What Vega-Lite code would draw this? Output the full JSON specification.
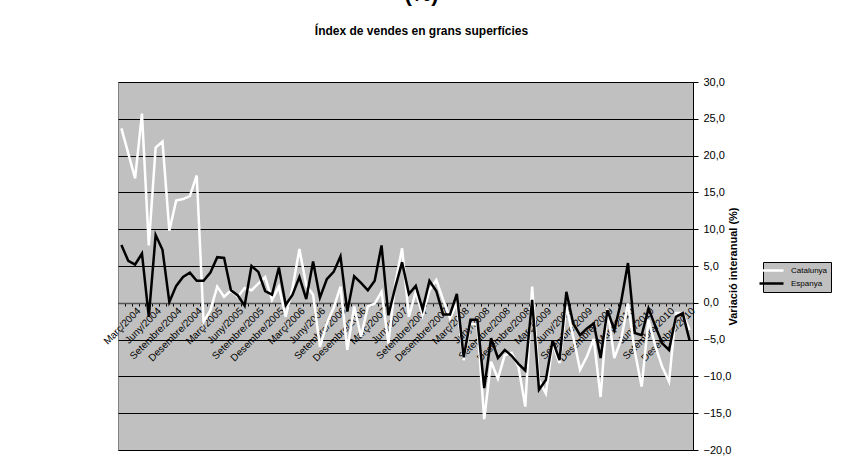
{
  "$schema": "https://vega.github.io/schema/vega-lite/v6.json",
  "width": 575,
  "height": 368,
  "autosize": {"type": "none"},
  "padding": {"left": 118, "top": 82, "right": 152, "bottom": 20},
  "background": "white",
  "title": {
    "text": "(%)",
    "subtitle": "Índex de vendes en grans superfícies",
    "font": "Liberation Sans",
    "fontSize": 22,
    "fontWeight": "bold",
    "color": "black",
    "subtitleFont": "Liberation Sans",
    "subtitleFontSize": 12,
    "subtitleFontWeight": "bold",
    "subtitleColor": "black",
    "anchor": "middle",
    "dx": 16,
    "offset": 38,
    "subtitlePadding": 20
  },
  "data": {
    "values": [
      {"mes": "Gener/2004", "Catalunya": 23.7, "Espanya": 7.85},
      {"mes": "Febrer/2004", "Catalunya": 20.3, "Espanya": 5.7},
      {"mes": "Març/2004", "Catalunya": 16.9, "Espanya": 5.2},
      {"mes": "Abril/2004", "Catalunya": 25.7, "Espanya": 6.7},
      {"mes": "Maig/2004", "Catalunya": 7.8, "Espanya": -1.9},
      {"mes": "Juny/2004", "Catalunya": 21.1, "Espanya": 9.2},
      {"mes": "Juliol/2004", "Catalunya": 21.9, "Espanya": 7.2},
      {"mes": "Agost/2004", "Catalunya": 9.8, "Espanya": 0.1},
      {"mes": "Setembre/2004", "Catalunya": 13.9, "Espanya": 2.3},
      {"mes": "Octubre/2004", "Catalunya": 14.1, "Espanya": 3.5},
      {"mes": "Novembre/2004", "Catalunya": 14.5, "Espanya": 4.1},
      {"mes": "Desembre/2004", "Catalunya": 17.3, "Espanya": 3.0},
      {"mes": "Gener/2005", "Catalunya": -2.6, "Espanya": 3.0},
      {"mes": "Febrer/2005", "Catalunya": -1.0, "Espanya": 4.1},
      {"mes": "Març/2005", "Catalunya": 2.2, "Espanya": 6.2},
      {"mes": "Abril/2005", "Catalunya": 0.8, "Espanya": 6.1},
      {"mes": "Maig/2005", "Catalunya": 1.7, "Espanya": 1.7},
      {"mes": "Juny/2005", "Catalunya": 0.8, "Espanya": 1.0},
      {"mes": "Juliol/2005", "Catalunya": 2.0, "Espanya": -0.4},
      {"mes": "Agost/2005", "Catalunya": 1.7, "Espanya": 5.0},
      {"mes": "Setembre/2005", "Catalunya": 2.6, "Espanya": 4.2},
      {"mes": "Octubre/2005", "Catalunya": 3.5, "Espanya": 1.6},
      {"mes": "Novembre/2005", "Catalunya": 0.4, "Espanya": 1.1},
      {"mes": "Desembre/2005", "Catalunya": 2.2, "Espanya": 4.8},
      {"mes": "Gener/2006", "Catalunya": -1.9, "Espanya": -0.3},
      {"mes": "Febrer/2006", "Catalunya": 2.0, "Espanya": 1.1},
      {"mes": "Març/2006", "Catalunya": 7.3, "Espanya": 3.5},
      {"mes": "Abril/2006", "Catalunya": 2.4, "Espanya": 0.5},
      {"mes": "Maig/2006", "Catalunya": 1.1, "Espanya": 5.6},
      {"mes": "Juny/2006", "Catalunya": -6.0, "Espanya": 0.7},
      {"mes": "Juliol/2006", "Catalunya": -2.8, "Espanya": 3.2},
      {"mes": "Agost/2006", "Catalunya": -0.7, "Espanya": 4.2},
      {"mes": "Setembre/2006", "Catalunya": 2.2, "Espanya": 6.3},
      {"mes": "Octubre/2006", "Catalunya": -6.4, "Espanya": -1.2},
      {"mes": "Novembre/2006", "Catalunya": -0.5, "Espanya": 3.6},
      {"mes": "Desembre/2006", "Catalunya": -4.6, "Espanya": 2.7},
      {"mes": "Gener/2007", "Catalunya": -0.5, "Espanya": 1.7},
      {"mes": "Febrer/2007", "Catalunya": -0.1, "Espanya": 3.0},
      {"mes": "Març/2007", "Catalunya": 1.5, "Espanya": 7.8},
      {"mes": "Abril/2007", "Catalunya": -5.5, "Espanya": -1.7},
      {"mes": "Maig/2007", "Catalunya": 2.6, "Espanya": 2.1},
      {"mes": "Juny/2007", "Catalunya": 7.4, "Espanya": 5.5},
      {"mes": "Juliol/2007", "Catalunya": -1.9, "Espanya": 1.2},
      {"mes": "Agost/2007", "Catalunya": 1.5, "Espanya": 2.3},
      {"mes": "Setembre/2007", "Catalunya": -1.7, "Espanya": -0.9},
      {"mes": "Octubre/2007", "Catalunya": 1.7, "Espanya": 3.0},
      {"mes": "Novembre/2007", "Catalunya": 3.1, "Espanya": 1.6},
      {"mes": "Desembre/2007", "Catalunya": 0.4, "Espanya": -1.6},
      {"mes": "Gener/2008", "Catalunya": -2.1, "Espanya": -1.6},
      {"mes": "Febrer/2008", "Catalunya": -0.1, "Espanya": 1.2},
      {"mes": "Març/2008", "Catalunya": -7.8, "Espanya": -7.4},
      {"mes": "Abril/2008", "Catalunya": -2.8, "Espanya": -2.3},
      {"mes": "Maig/2008", "Catalunya": -3.0, "Espanya": -2.3},
      {"mes": "Juny/2008", "Catalunya": -15.8, "Espanya": -11.6},
      {"mes": "Juliol/2008", "Catalunya": -8.0, "Espanya": -4.8},
      {"mes": "Agost/2008", "Catalunya": -10.3, "Espanya": -7.5},
      {"mes": "Setembre/2008", "Catalunya": -7.1, "Espanya": -6.4},
      {"mes": "Octubre/2008", "Catalunya": -6.8, "Espanya": -7.2},
      {"mes": "Novembre/2008", "Catalunya": -8.7, "Espanya": -8.3},
      {"mes": "Desembre/2008", "Catalunya": -14.1, "Espanya": -9.2},
      {"mes": "Gener/2009", "Catalunya": 2.2, "Espanya": 0.4},
      {"mes": "Febrer/2009", "Catalunya": -10.5, "Espanya": -11.8},
      {"mes": "Març/2009", "Catalunya": -12.3, "Espanya": -10.5},
      {"mes": "Abril/2009", "Catalunya": -5.6, "Espanya": -5.1},
      {"mes": "Maig/2009", "Catalunya": -8.2, "Espanya": -7.8},
      {"mes": "Juny/2009", "Catalunya": -0.5, "Espanya": 1.5},
      {"mes": "Juliol/2009", "Catalunya": -4.6, "Espanya": -2.8},
      {"mes": "Agost/2009", "Catalunya": -9.1, "Espanya": -4.4},
      {"mes": "Setembre/2009", "Catalunya": -7.3, "Espanya": -3.5},
      {"mes": "Octubre/2009", "Catalunya": -4.9, "Espanya": -2.8},
      {"mes": "Novembre/2009", "Catalunya": -12.8, "Espanya": -7.5},
      {"mes": "Desembre/2009", "Catalunya": -0.75, "Espanya": -1.0},
      {"mes": "Gener/2010", "Catalunya": -7.5, "Espanya": -3.7},
      {"mes": "Febrer/2010", "Catalunya": -5.0, "Espanya": 0.15},
      {"mes": "Març/2010", "Catalunya": -0.1, "Espanya": 5.4},
      {"mes": "Abril/2010", "Catalunya": -6.6, "Espanya": -4.1},
      {"mes": "Maig/2010", "Catalunya": -11.4, "Espanya": -4.4},
      {"mes": "Juny/2010", "Catalunya": -2.3, "Espanya": -0.75},
      {"mes": "Juliol/2010", "Catalunya": -5.9, "Espanya": -3.2},
      {"mes": "Agost/2010", "Catalunya": -8.7, "Espanya": -5.5},
      {"mes": "Setembre/2010", "Catalunya": -10.7, "Espanya": -6.4},
      {"mes": "Octubre/2010", "Catalunya": -1.4, "Espanya": -1.9},
      {"mes": "Novembre/2010", "Catalunya": -1.4, "Espanya": -1.4},
      {"mes": "Desembre/2010", "Catalunya": -3.7, "Espanya": -5.1}
    ]
  },
  "transform": [{"fold": ["Catalunya", "Espanya"], "as": ["serie", "valor"]}],
  "mark": {"type": "line", "strokeWidth": 2.5},
  "encoding": {
    "x": {
      "field": "mes",
      "type": "ordinal",
      "sort": null,
      "scale": {"type": "point", "padding": 0.5},
      "axis": {
        "title": null,
        "orient": "bottom",
        "offset": -147,
        "domainColor": "#555555",
        "domainWidth": 1.5,
        "tickColor": "black",
        "tickSize": 3,
        "tickOffset": 3.42,
        "labelAngle": -45,
        "labelAlign": "right",
        "labelBaseline": "middle",
        "labelFont": "Liberation Sans",
        "labelFontSize": 10,
        "labelColor": "black",
        "labelOverlap": false,
        "labelPadding": 3,
        "labelExpr": "test(/^(Març|Juny|Setembre|Desembre)/, datum.value) ? datum.value : ''"
      }
    },
    "y": {
      "field": "valor",
      "type": "quantitative",
      "scale": {"domain": [-20, 30], "nice": false},
      "axis": {
        "orient": "right",
        "values": [-20, -15, -10, -5, 0, 5, 10, 15, 20, 25, 30],
        "labelExpr": "replace(format(datum.value, '.1f'), '.', ',')",
        "grid": true,
        "gridColor": "black",
        "gridWidth": 1,
        "domainColor": "black",
        "tickColor": "black",
        "tickSize": 5,
        "labelFont": "Liberation Sans",
        "labelFontSize": 11,
        "labelColor": "black",
        "labelPadding": 5,
        "title": "Variació interanual (%)",
        "titleAngle": 270,
        "titleFont": "Liberation Sans",
        "titleFontSize": 11,
        "titleFontWeight": "bold",
        "titleColor": "black",
        "titlePadding": 8
      }
    },
    "color": {
      "field": "serie",
      "type": "nominal",
      "scale": {"domain": ["Catalunya", "Espanya"], "range": ["#FFFFFF", "#000000"]},
      "legend": {
        "orient": "none",
        "legendX": 645,
        "legendY": 180,
        "title": null,
        "fillColor": "#C0C0C0",
        "strokeColor": "black",
        "padding": 3,
        "symbolType": "M-3,0H3",
        "symbolSize": 64,
        "symbolStrokeWidth": 2.5,
        "labelOffset": 14,
        "labelFont": "Liberation Sans",
        "labelFontSize": 8,
        "labelColor": "black",
        "rowPadding": 2
      }
    }
  },
  "config": {
    "view": {"fill": "#C0C0C0", "stroke": "#808080", "strokeWidth": 1}
  }
}
